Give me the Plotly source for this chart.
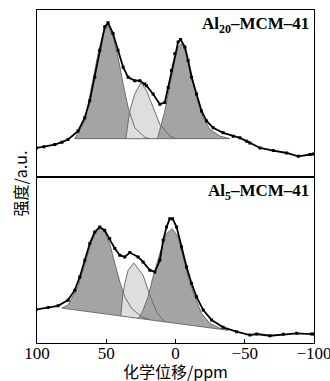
import plotly.graph_objects as go
from plotly.subplots import make_subplots

# ---------------- top panel: Al20-MCM-41 ----------------
top_ppm = [100.4, 95.0, 87.2, 82.0, 77.6, 70.4, 65.5, 61.9, 58.3, 54.7, 51.1, 48.7, 45.1, 41.5, 37.8,
           34.2, 29.4, 25.8, 22.2, 20.9, 16.2, 11.3, 7.7, 5.3, 2.9, 0.5, -1.9, -3.7, -6.8, -9.1,
           -11.6, -15.2, -18.8, -22.4, -27.2, -34.4, -41.7, -46.5, -51.4, -53.7, -61.0, -70.6,
           -80.3, -88.7, -97.1, -99.5]
top_int = [28.3, 29.5, 31.7, 34.0, 36.7, 45.0, 58.3, 75.0, 98.3, 125.0, 148.3, 152.3, 141.7, 125.0, 108.3,
           98.3, 95.0, 95.0, 91.7, 90.0, 81.7, 71.7, 73.3, 88.3, 105.0, 121.7, 133.3, 135.7, 128.3, 115.0,
           98.3, 81.7, 65.0, 55.0, 48.3, 43.3, 40.0, 38.3, 35.0, 33.3, 28.3, 25.7,
           23.3, 20.0, 21.7, 22.3]

top_g1_ppm = [72.7, 65.5, 60.7, 55.9, 52.3, 49.1, 45.1, 41.5, 37.8, 34.2, 29.4, 22.2, 18.5]
top_g1_int = [37.5, 55.0, 88.3, 121.7, 141.7, 150.0, 138.3, 118.3, 91.7, 68.3, 48.3, 39.0, 37.5]

top_g2_ppm = [35.9, 34.4, 33.0, 29.4, 25.0, 20.9, 16.2, 11.3, 4.1, -0.3]
top_g2_int = [37.5, 50.0, 65.0, 81.7, 93.0, 85.0, 68.3, 51.7, 40.0, 37.5]

top_g3_ppm = [13.5, 12.5, 7.7, 4.1, 0.5, -1.9, -4.4, -8.0, -11.6, -15.2, -20.0, -24.8, -32.1, -39.3]
top_g3_int = [37.5, 40.0, 65.0, 91.7, 115.0, 128.3, 131.7, 121.7, 101.7, 78.3, 58.3, 46.7, 40.0, 37.5]

top_base_ppm = [72.7, -39.3]
top_base_int = [37.5, 37.5]

# ---------------- bottom panel: Al5-MCM-41 ----------------
bot_ppm = [100.4, 92.0, 84.8, 77.6, 72.7, 69.1, 65.5, 61.9, 58.3, 54.7, 51.1, 47.5, 43.8, 40.2, 36.6,
           33.0, 27.0, 23.4, 18.5, 14.9, 11.3, 8.9, 6.5, 4.1, 2.1, -0.8, -4.4, -8.0, -11.6, -15.2,
           -20.0, -26.1, -34.4, -44.1, -53.7, -58.6, -68.2, -77.8, -87.5, -98.3, -100.0]
bot_int = [33.7, 35.7, 37.3, 43.0, 53.0, 66.3, 83.0, 99.7, 111.3, 116.3, 113.0, 104.7, 94.7, 88.0, 86.3,
           90.7, 86.3, 81.3, 73.0, 71.3, 83.0, 103.0, 116.3, 124.7, 124.7, 116.3, 96.3, 76.3, 59.7, 46.3,
           33.0, 23.0, 15.7, 11.3, 8.0, 9.0, 7.3, 8.7, 9.7, 9.0, 9.0]

bot_g1_ppm = [82.1, 77.6, 70.4, 65.5, 60.7, 57.1, 54.7, 51.1, 47.5, 43.8, 40.2, 36.6, 31.8, 24.5, 18.5]
bot_g1_int = [35.0, 38.0, 56.3, 79.7, 101.3, 113.0, 116.3, 111.3, 99.7, 79.7, 61.3, 46.3, 34.7, 26.3, 23.2]

bot_g2_ppm = [39.5, 38.1, 36.6, 34.2, 30.1, 23.4, 18.5, 13.7, 8.9, 7.0]
bot_g2_int = [27.1, 48.0, 59.7, 73.0, 80.3, 68.0, 48.0, 31.3, 23.0, 21.1]

bot_g3_ppm = [27.2, 25.8, 23.4, 19.8, 16.2, 11.3, 6.5, 2.4, -1.9, -5.5, -9.1, -14.0, -18.8, -24.8, -32.1, -37.8]
bot_g3_int = [24.8, 26.3, 33.0, 46.3, 66.3, 89.7, 109.7, 114.7, 106.3, 86.3, 66.3, 46.3, 29.7, 19.7, 14.7, 12.8]

bot_base_ppm = [82.1, -37.8]
bot_base_int = [35.0, 12.8]

x_ticks = [100, 50, 0, -50, -100]
x_tick_text = ["100", "50", "0", "\u221250", "\u2212100"]

DARK = "#a4a4a4"
LIGHT = "#dedede"
EDGE = "#6e6e6e"

fig = make_subplots(rows=2, cols=1, shared_xaxes=True, vertical_spacing=0)


def add_panel(row, data_x, data_y, fits, base_x, base_y):
    for fx, fy, col in fits:
        fig.add_trace(go.Scatter(x=fx, y=fy, mode="lines", fill="toself", fillcolor=col,
                                 line=dict(width=0, color=col), hoverinfo="skip",
                                 showlegend=False), row=row, col=1)
    for fx, fy, col in fits:
        fig.add_trace(go.Scatter(x=fx, y=fy, mode="lines", line=dict(width=1, color=EDGE),
                                 showlegend=False), row=row, col=1)
    fig.add_trace(go.Scatter(x=base_x, y=base_y, mode="lines", line=dict(width=1, color=EDGE),
                             showlegend=False), row=row, col=1)
    fig.add_trace(go.Scatter(x=data_x, y=data_y, mode="lines+markers",
                             line=dict(width=1.8, color="black"),
                             marker=dict(symbol="square", size=3, color="black"),
                             showlegend=False), row=row, col=1)


add_panel(1, top_ppm, top_int,
          [(top_g1_ppm, top_g1_int, DARK), (top_g2_ppm, top_g2_int, LIGHT), (top_g3_ppm, top_g3_int, DARK)],
          top_base_ppm, top_base_int)
add_panel(2, bot_ppm, bot_int,
          [(bot_g1_ppm, bot_g1_int, DARK), (bot_g2_ppm, bot_g2_int, LIGHT), (bot_g3_ppm, bot_g3_int, DARK)],
          bot_base_ppm, bot_base_int)

SERIF = "Liberation Serif"

fig.update_xaxes(range=[100, -100], showline=True, mirror=True, linecolor="black", linewidth=1,
                 showgrid=False, zeroline=False, automargin=False)
fig.update_xaxes(showticklabels=False, ticks="", row=1, col=1)
fig.update_xaxes(tickvals=x_ticks, ticktext=x_tick_text, ticks="inside", ticklen=4,
                 tickcolor="black", tickfont=dict(family=SERIF, size=17, color="black"),
                 ticklabeloverflow="allow", ticklabelstandoff=-5,
                 row=2, col=1)
fig.update_yaxes(showline=True, mirror=True, linecolor="black", linewidth=1, showgrid=False,
                 zeroline=False, showticklabels=False, ticks="", automargin=False)
fig.update_yaxes(range=[0, 165], row=1, col=1)
fig.update_yaxes(range=[0, 167], row=2, col=1)

fig.add_annotation(x=1, y=1, xref="x domain", yref="y domain", xanchor="right", yanchor="top",
                   xshift=-3, yshift=-2, showarrow=False,
                   text="<b>Al<sub>20</sub>\u2013MCM\u201341</b>",
                   font=dict(family=SERIF, size=17, color="black"))
fig.add_annotation(x=1, y=1, xref="x2 domain", yref="y2 domain", xanchor="right", yanchor="top",
                   xshift=-3, yshift=-2, showarrow=False,
                   text="<b>Al<sub>5</sub>\u2013MCM\u201341</b>",
                   font=dict(family=SERIF, size=17, color="black"))
fig.add_annotation(x=0.5, y=0, xref="paper", yref="paper", xanchor="center", yanchor="middle",
                   yshift=-28, showarrow=False, text="\u5316\u5b66\u4f4d\u79fb/ppm",
                   font=dict(family="Noto Sans CJK SC", size=16, color="black"))
fig.add_annotation(x=0, y=0.5, xref="paper", yref="paper", xanchor="right", yanchor="middle",
                   xshift=-4, yshift=-7, showarrow=False, textangle=-90, text="\u5f3a\u5ea6/a.u.",
                   font=dict(family="Noto Sans CJK SC", size=16, color="black"))

fig.update_layout(width=330, height=381, margin=dict(l=37, r=16, t=10, b=38, autoexpand=False),
                  paper_bgcolor="white", plot_bgcolor="white", showlegend=False)

fig.write_html("out.html", config={"displayModeBar": False},
               post_script="document.body.style.margin='0';document.body.style.padding='0';")
